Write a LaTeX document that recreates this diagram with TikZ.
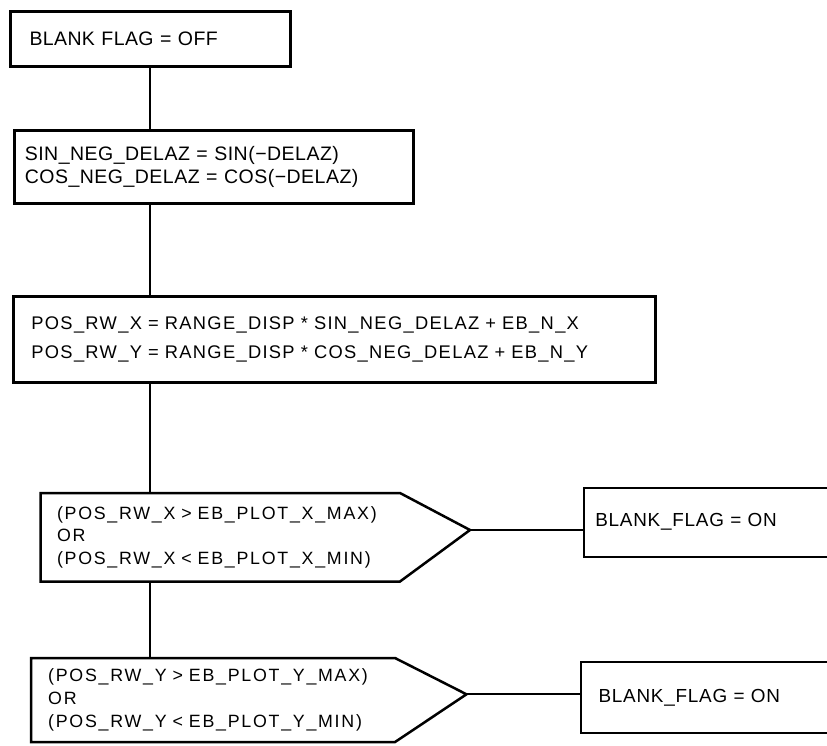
\documentclass[tikz,border=0pt]{standalone}
\usepackage{fontspec}
\setmainfont{Liberation Sans}
\newfontfamily\widefam[WordSpace=1.3]{Liberation Sans}
\usepackage{tikz}
\newcommand{\offfont}{\fontsize{19.5}{23}\selectfont\addfontfeature{LetterSpace=2}}
\newcommand{\trigfont}{\fontsize{19.5}{23.4}\selectfont\addfontfeature{LetterSpace=2.5}}
\newcommand{\posfont}{\widefam\fontsize{18.3}{29}\selectfont\addfontfeature{LetterSpace=7.2}}
\newcommand{\testfont}{\widefam\fontsize{17.8}{22.7}\selectfont\addfontfeature{LetterSpace=9.8}}
\newcommand{\onfont}{\fontsize{18.9}{22}\selectfont\addfontfeature{LetterSpace=4}}
\tikzset{
  procbox/.style={draw, line width=3pt, rectangle, anchor=north west, outer sep=0pt, align=left},
  testbox/.style={rectangle, anchor=north west, outer sep=0pt, align=left},
  testline/.style={line width=2.5pt, line join=miter},
  resultbox/.style={draw, line width=2.2pt, rectangle, anchor=north west, outer sep=0pt, align=left},
  link/.style={line width=2pt}
}

\begin{document}
\begin{tikzpicture}[x=1pt, y=-1pt]
  \useasboundingbox (0,0) rectangle (827,745);
  \clip (0,0) rectangle (827,745);
  \coordinate (spine) at (150,0);

  % process boxes
  \node[procbox, font=\offfont, minimum width=279.7pt, minimum height=55.3pt, inner xsep=19pt, text width=241.7pt] (flagoff) at (10.5,11.5) {BLANK FLAG = OFF};
  \node[procbox, font=\trigfont, minimum width=398.7pt, minimum height=72.7pt, inner xsep=10pt, text width=378.7pt] (trig) at (14.8,130.8) {SIN\_NEG\_DELAZ = SIN(−DELAZ)\\COS\_NEG\_DELAZ = COS(−DELAZ)};
  \node[procbox, font=\posfont, minimum width=642.7pt, minimum height=86pt, inner xsep=18.3pt, text width=606.1pt] (pos) at (13.1,296.5) {POS\_RW\_X = RANGE\_DISP * SIN\_NEG\_DELAZ + EB\_N\_X\\POS\_RW\_Y = RANGE\_DISP * COS\_NEG\_DELAZ + EB\_N\_Y};

  % tests
  \node[testbox, font=\testfont, minimum width=359.5pt, minimum height=88.5pt, inner xsep=16.5pt, text width=326.5pt] (xtest) at (40.5,493) {\mbox{(POS\_RW\_X > EB\_PLOT\_X\_MAX)}\\OR\\\mbox{(POS\_RW\_X < EB\_PLOT\_X\_MIN)}};
  \draw[testline] (xtest.north west) -- (xtest.north east) -- ++(70,37) coordinate (xtip) -- (xtest.south east) -- (xtest.south west) -- cycle;
  \node[testbox, font=\testfont, minimum width=363.8pt, minimum height=84pt, inner xsep=17pt, text width=329.8pt] (ytest) at (31.2,658) {\mbox{(POS\_RW\_Y > EB\_PLOT\_Y\_MAX)}\\OR\\\mbox{(POS\_RW\_Y < EB\_PLOT\_Y\_MIN)}};
  \draw[testline] (ytest.north west) -- (ytest.north east) -- ++(71.5,36.3) coordinate (ytip) -- (ytest.south east) -- (ytest.south west) -- cycle;

  % results
  \node[resultbox, font=\onfont, minimum width=320pt, minimum height=68.8pt, inner xsep=11.5pt, text width=297pt] (xon) at (583.8,487.8) {BLANK\_FLAG = ON};
  \node[resultbox, font=\onfont, minimum width=320pt, minimum height=71pt, inner xsep=17.6pt, text width=284.8pt] (yon) at (581,662) {BLANK\_FLAG = ON};

  \draw[link] (spine |- flagoff.south) -- (spine |- trig.north);
  \draw[link] (spine |- trig.south) -- (spine |- pos.north);
  \draw[link] (spine |- pos.south) -- (spine |- xtest.north);
  \draw[link] (spine |- xtest.south) -- (spine |- ytest.north);
  \draw[link] (xtip) -- (xtip -| xon.west);
  \draw[link] (ytip) -- (ytip -| yon.west);
\end{tikzpicture}
\end{document}
